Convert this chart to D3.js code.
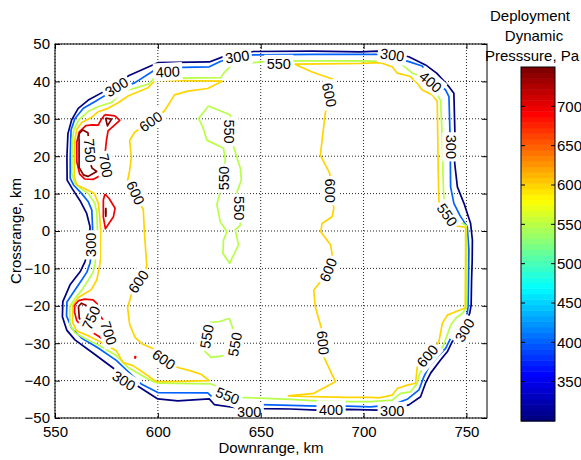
<!DOCTYPE html>
<html>
<head>
<meta charset="utf-8">
<script src="https://cdn.jsdelivr.net/npm/d3@7"></script>
<style>
  body { margin: 0; background: #fff; }
  text { font-family: "Liberation Sans", Arial, sans-serif; }
</style>
</head>
<body>
<svg id="chart" width="581" height="460"></svg>
<script>
// contour levels and tick values
const levels = [300, 400, 550, 600, 700, 750];
const xTicks = [550, 600, 650, 700, 750];
const yTicks = [-50, -40, -30, -20, -10, 0, 10, 20, 30, 40, 50];
const colorTicks = [350, 400, 450, 500, 550, 600, 650, 700];
const colorTitle = ['Deployment', 'Dynamic', 'Presssure, Pa'];

// contour lines, [downrange km, crossrange km]
const c300 = [
  [[573.5,37.2],[586.0,41.6],[600,45.0],[625,45.2],[632.2,46.7],[640,47.4],[646.5,48.0],[675,48.1],[698.5,47.9],[706.6,48.1],[714,47.5],[722.0,46.6],[730.1,44.4],[735.5,42.2],[741.5,38.6],[743.9,36.8],[744.4,26.1],[744.3,18.1],[745.6,11.8],[748.8,7.4],[752.0,2.1],[752.9,-2.4],[752.8,-8],[752.5,-13.1],[752.3,-19.8],[751.6,-22.0],[747.5,-26.5],[743.1,-29.6],[740.7,-32.3],[737.4,-34.5],[732.6,-38.0],[730.1,-40.7],[727.7,-44.3],[722.0,-46.5],[714,-47.6],[707.4,-47.9],[692.0,-47.7],[677.4,-47.9],[664.5,-47.6],[651.6,-47.5],[637.1,-47.2],[627.4,-46.4],[625,-44.9],[609.7,-45.4],[600,-44.9],[591.1,-41.8],[584,-39.2],[578.4,-36.7],[568.6,-32.7],[559.7,-29.1],[555.7,-26.5],[553.6,-22.9],[553.8,-18.9],[557.3,-14.4],[562.2,-10.9],[564.6,-8.2],[566.5,-4],[567.0,-0.6],[567.0,1.2],[565.4,4.7],[562.5,7.8],[558.5,11.2],[555.9,13.6],[555.8,19.9],[556.3,26.1],[558.1,29.7],[561.3,32.8],[566.2,35.0],[573.5,37.2]]
];
const c400 = [
  [[557.4,19.9],[557.8,27.0],[559.7,30.1],[563.8,32.8],[569.5,34.6],[576,36.8],[582,38.2],[588.7,39.6],[600,43.6],[625,43.9],[630.6,45.4],[640,46.8],[646.5,47.1],[675,47.2],[698.5,47.2],[706.3,47.2],[714,46.6],[722.0,45.3],[728.5,44.1],[733.5,40.6],[739.9,37.7],[741.5,35.9],[742.0,26.1],[742.2,18],[742.3,11.8],[743.9,7.4],[747.2,3.8],[750.4,1.1],[751.2,-5.1],[751.0,-13.1],[750.8,-20.2],[750.4,-22.0],[746,-25.5],[742.3,-28.7],[739.9,-31.4],[736.6,-33.2],[731.7,-36.3],[729.3,-39.0],[726.9,-42.5],[721.2,-45.0],[714,-46.5],[703.4,-47.0],[692,-46.8],[677.4,-46.8],[664.5,-46.6],[650,-46.4],[637.1,-46.1],[627.4,-44.9],[624.2,-43.3],[600,-43.2],[591.9,-40.9],[585,-37.3],[579.8,-34.6],[571.0,-31.3],[562.9,-28.6],[558.1,-26],[555.6,-22.7],[555.8,-19],[559.7,-15.8],[563,-13.1],[565.5,-11],[567.0,-8.6],[568.3,-4],[568.3,0.3],[567.9,5.6],[566.2,7.8],[563,10],[559,12.3],[557.4,14.1],[557.4,19.9]]
];
const c550 = [
  [[558.2,15.4],[558.4,24.3],[559.2,27.2],[561.6,29.8],[566.2,32.0],[571.1,33.3],[577.6,34.4],[582.5,37.3],[589,38.2],[595.5,39.3],[598.4,41.0],[600,40.8],[630.6,41.0],[632,42.2],[636,44.5],[649.8,45.2],[667.6,45.5],[698.5,45.5],[714.7,45.3],[718.8,44.4],[723.7,42.2],[726.1,41.7],[735.8,36.4],[737.4,35.0],[738.3,24.3],[738.6,15],[739.0,9.2],[741,4.5],[748.0,2.1],[749.9,1.5],[750.2,-5],[750.1,-13],[750.0,-20.5],[748,-22.0],[745,-23.2],[742.5,-25],[740.5,-28],[738.5,-31],[733.5,-34.3],[728.5,-36.8],[727,-38.5],[726.1,-40.7],[722.8,-43.0],[718,-43.4],[713.9,-45.2],[703.4,-45.6],[692,-45.6],[677.4,-45.4],[664.4,-45.0],[640.3,-44.5],[634,-43.3],[629.8,-41.8],[625.8,-40.9],[600,-40.7],[595.2,-39.6],[585.5,-36.5],[579.8,-33.3],[571.5,-30.6],[565,-28.9],[559.7,-27.2],[557.2,-25],[557.2,-20.2],[560,-17.8],[563,-15.8],[566.2,-13.1],[568.5,-11],[569.5,-8.6],[570.6,0.3],[570.3,5],[569.3,7.4],[566.2,10],[563,11.2],[559.7,12.7],[558.2,15.4]],
  [[624.6,33.4],[635.2,31.0],[636.0,28.0],[636.5,24.5],[636.8,22.5],[640.1,16.8],[640.6,13.6],[638.5,10.5],[639.6,6.1],[640.1,1.6],[637.6,0.3],[639.2,-3.7],[634.9,-8.6],[631.6,-6.0],[631.9,-2.4],[633.6,-0.2],[630.3,2.5],[628.7,7.0],[630.5,11],[631.8,14.5],[632.8,19.0],[631.9,22.1],[623.8,24.3],[622,27.5],[619.8,30.1],[624.6,33.4]],
  [[625,-24.5],[630,-24.2],[634.7,-23.4],[636.3,-25.8],[636.8,-30],[635,-33.2],[631.5,-33.4],[625.8,-33.8],[622.6,-32.0],[623.3,-28],[625,-24.5]]
];
const c600 = [
  [[631.5,40.1],[624.2,38.1],[614.5,37.4],[608.1,36.4],[603.2,32.1],[596,29.2],[588.7,26.4],[586.3,24.2],[587.1,19.7],[586.3,16.2],[585.2,13.2],[589,9],[592.9,5.8],[593.4,0.3],[593.8,-3],[594.6,-9.3],[592.7,-12.9],[587.5,-16.3],[585.3,-20.5],[586.3,-25],[589,-28.5],[592.7,-30.3],[598.4,-31.6],[603.5,-33.8],[609.7,-36.5],[616,-37.4],[621.0,-38.3],[625,-40.0],[612,-40.2],[600,-40.3],[598.4,-40.0],[595.2,-38.7],[587.9,-36.0],[583.1,-35.2],[579.8,-32.0],[572.6,-29.8],[566.1,-28.0],[560.5,-26.7],[558.6,-24.5],[558.6,-20.0],[561.3,-17.8],[565,-16.5],[567.5,-15.8],[570.3,-13.1],[571.9,-8.6],[572.2,0.3],[571.8,3.5],[571.1,7.4],[569.1,10.0],[564.6,11.3],[560.6,12.3],[559.4,14.5],[559.4,20],[559.6,24.2],[560.6,27.2],[563,29],[567.8,30.4],[571.0,31.9],[575.8,32.8],[580.7,34.3],[585.5,36.1],[595.2,38.3],[598.4,40.1],[600,40.3],[631.5,40.1]],
  [[666.5,44.6],[675,42.5],[685.5,40.5],[683.4,36.4],[681.5,31.9],[680.6,27.9],[679.0,20.3],[683.5,15.5],[684.6,11],[685.5,6.0],[684.7,3.8],[679.8,2.0],[679.2,-0.2],[683.9,-3.7],[684.7,-6.0],[683.5,-10.5],[675.8,-15.8],[676.5,-20.2],[679.5,-26],[680.6,-33.6],[686.3,-40.3],[675.8,-43.4],[663.5,-44.1],[675,-44.3],[692.0,-44.5],[703.4,-44.5],[707.4,-44.6],[713.9,-43.9],[716.4,-42.1],[721.2,-41.2],[725.3,-40.7],[726.1,-36.3],[731,-33.5],[736.6,-29.6],[738.3,-24.7],[740.7,-22.5],[745.6,-21.4],[749.4,-20.6],[749.5,-13],[749.6,-5],[749.6,1.0],[745.6,1.3],[738,3.0],[736.6,8.3],[736.3,16],[736.1,24.3],[735.8,34.6],[733.4,36.4],[728.5,37.7],[726.1,39.5],[722.8,41.3],[716.4,42.2],[713.9,43.9],[708.2,45.0],[698.5,44.8],[680,44.7],[666.5,44.6]]
];
const c700 = [
  [[574.2,31.1],[579.1,30.8],[581.5,29.6],[575.8,26.8],[575.0,24.2],[574.4,21],[574.6,17.5],[572.5,15],[568.5,13.8],[564.5,13.9],[562,15.2],[560.6,18.5],[560.6,23.8],[561.8,26.5],[565,28.2],[568,28.4],[571.0,28.3],[572.6,29.9],[574.2,31.1]],
  [[574.3,9.9],[576.3,8.7],[579.2,6.1],[578.4,3.8],[574.5,0.6],[573.5,3.8],[573.5,8.3],[574.3,9.9]],
  [[559.6,-19.8],[561.5,-18.6],[564.5,-18.2],[568.5,-18.4],[570.5,-19.5],[572.6,-23.2],[575,-25],[576,-27.5],[575.6,-29.2],[573.5,-29.0],[570.8,-28.0],[567.5,-26.9],[563.5,-25.7],[560.6,-24],[559.5,-21.7],[559.6,-19.8]],
  [[588.7,-33.5],[589.3,-33.7],[588.9,-34.0],[588.7,-33.5]]
];
const c750 = [
  [[561.7,26],[561.7,17],[563.8,15],[566,14.6],[570.3,15.9],[568,16.8],[566.8,19],[566.6,23],[566,26.3],[563.5,27.0],[561.7,26]],
  [[574.6,30.2],[577.5,29.9],[575.5,28.1],[574.6,30.2]],
  [[574.7,6.2],[574.8,5.0],[574.7,3.9],[574.6,5.0],[574.7,6.2]],
  [[561.4,-20.2],[562.8,-19.3],[565.2,-19.9],[567.8,-21.8],[569.5,-24.8],[567.5,-25.9],[564.6,-25.1],[561.8,-23.3],[561.4,-20.2]]
];

// inline labels: [level, x km, y km, angle deg]
const contourLabels = [
  [300,579.9,38.5,-32],[300,638.6,46.6,-8],[300,713.9,47.1,8],[300,742.6,22.5,90],
  [300,749.1,-26.5,-60],[300,713.9,-48.1,0],[300,644.4,-48.2,0],[300,583.5,-40.0,33],[300,567.5,-3.7,-90],
  [400,604.8,42.6,-3],[400,732.6,39.9,40],[400,684.2,-47.7,0],
  [550,658.8,44.7,0],[550,740.7,4.3,55],[550,633.9,-44.0,22],[550,634.9,26.6,90],
  [550,631.9,14.1,-90],[550,639.6,6.1,90],[550,623.7,-28.2,-80],[550,637.4,-30.3,-80],
  [600,596.5,29.3,-35],[600,589.2,10.2,65],[600,590.5,-13.5,-55],[600,602.9,-34.3,35],
  [600,683.4,36.4,78],[600,683.6,10.8,90],[600,682.8,-10.4,-68],[600,680.3,-29.9,85],[600,731,-33.4,-50],
  [700,574.6,17.5,78],[700,576.1,-27.3,72],
  [750,567.0,21.5,85],[750,567.5,-23.2,-65]
];

const contourSets = [[300, c300], [400, c400], [550, c550], [600, c600], [700, c700], [750, c750]];

const width = 581, height = 460;
const plot = { left: 55, right: 487, top: 44, bottom: 418 };
const bar = { left: 521, right: 555, top: 67, bottom: 421 };
const cmin = 300, cmax = 750, nColors = 64;

function jet(t) {
  const c = (v) => Math.max(0, Math.min(1, v));
  const r = c(Math.min(4 * t - 1.5, -4 * t + 4.5));
  const g = c(Math.min(4 * t - 0.5, -4 * t + 3.5));
  const b = c(Math.min(4 * t + 0.5, -4 * t + 2.5));
  return d3.rgb(r * 255, g * 255, b * 255).formatHex();
}
// colour of a value, like a 64-entry colormap over [cmin, cmax]
function levelColor(v) {
  let i = Math.floor((v - cmin) / (cmax - cmin) * nColors);
  i = Math.max(0, Math.min(nColors - 1, i));
  return jet(i / (nColors - 1));
}

const svg = d3.select('#chart');
svg.append('rect').attr('width', width).attr('height', height).attr('fill', '#fff');

const x = d3.scaleLinear().domain([550, 760]).range([plot.left, plot.right]);
const y = d3.scaleLinear().domain([-50, 50]).range([plot.bottom, plot.top]);

svg.append('clipPath').attr('id', 'plot-clip')
  .append('rect')
  .attr('x', plot.left).attr('y', plot.top)
  .attr('width', plot.right - plot.left).attr('height', plot.bottom - plot.top);

// grid
const grid = svg.append('g').attr('class', 'grid')
  .attr('stroke', '#222').attr('stroke-width', 1).attr('stroke-dasharray', '1,2');
grid.selectAll('line.gx').data(xTicks).join('line')
  .attr('x1', d => x(d)).attr('x2', d => x(d))
  .attr('y1', plot.top).attr('y2', plot.bottom);
grid.selectAll('line.gy').data(yTicks).join('line')
  .attr('x1', plot.left).attr('x2', plot.right)
  .attr('y1', d => y(d)).attr('y2', d => y(d));

// contour lines
const line = d3.line().x(d => x(d[0])).y(d => y(d[1]));
const lines = svg.append('g').attr('clip-path', 'url(#plot-clip)')
  .attr('fill', 'none').attr('stroke-width', 1.7).attr('stroke-linejoin', 'round');
contourSets.forEach(([level, paths]) => {
  lines.append('g').attr('stroke', levelColor(level))
    .selectAll('path').data(paths).join('path')
    .attr('d', line);
});

// inline labels with white background
const labelG = svg.append('g');
contourLabels.forEach(([level, lx, ly, angle]) => {
  const g = labelG.append('g')
    .attr('transform', `translate(${x(lx)},${y(ly)}) rotate(${angle})`);
  const rect = g.append('rect').attr('fill', '#fff');
  const t = g.append('text')
    .attr('text-anchor', 'middle')
    .attr('dy', '0.36em')
    .attr('font-size', 14.5)
    .attr('fill', '#000')
    .text(level);
  const w = t.node().getComputedTextLength();
  rect.attr('x', -w / 2 - 2.5).attr('y', -9).attr('width', w + 5).attr('height', 18);
});

// axes, ticks pointing inside
const fontSize = 15;
svg.append('g')
  .attr('transform', `translate(0,${plot.bottom})`)
  .call(d3.axisBottom(x).tickValues(xTicks).tickSize(-5).tickPadding(8));
svg.append('g')
  .attr('transform', `translate(${plot.left},0)`)
  .call(d3.axisLeft(y).tickValues(yTicks).tickSize(-5).tickPadding(5));
svg.append('g')
  .attr('transform', `translate(0,${plot.top})`)
  .call(d3.axisTop(x).tickValues(xTicks).tickSize(-5).tickFormat(''));
svg.append('g')
  .attr('transform', `translate(${plot.right},0)`)
  .call(d3.axisRight(y).tickValues(yTicks).tickSize(-5).tickFormat(''));
svg.selectAll('.domain').remove();
svg.selectAll('.tick text')
  .attr('font-size', fontSize)
  .attr('font-family', '"Liberation Sans", Arial, sans-serif')
  .attr('fill', '#000');

svg.append('rect')
  .attr('x', plot.left).attr('y', plot.top)
  .attr('width', plot.right - plot.left).attr('height', plot.bottom - plot.top)
  .attr('fill', 'none').attr('stroke', '#000').attr('stroke-width', 1);

svg.append('text')
  .attr('x', (plot.left + plot.right) / 2).attr('y', 453)
  .attr('text-anchor', 'middle').attr('font-size', fontSize)
  .text('Downrange, km');
svg.append('text')
  .attr('transform', `translate(21,${(plot.top + plot.bottom) / 2}) rotate(-90)`)
  .attr('text-anchor', 'middle').attr('font-size', fontSize)
  .text('Crossrange, km');

// colorbar
const cy = d3.scaleLinear().domain([cmin, cmax]).range([bar.bottom, bar.top]);
const step = (cmax - cmin) / nColors;
svg.append('g').selectAll('rect')
  .data(d3.range(nColors))
  .join('rect')
  .attr('x', bar.left)
  .attr('width', bar.right - bar.left)
  .attr('y', i => cy(cmin + (i + 1) * step))
  .attr('height', i => cy(cmin + i * step) - cy(cmin + (i + 1) * step) + 0.5)
  .attr('fill', i => jet(i / (nColors - 1)));

const cbTicks = svg.append('g').attr('stroke', '#000').attr('stroke-width', 1);
cbTicks.selectAll('line.l').data(colorTicks).join('line')
  .attr('x1', bar.left).attr('x2', bar.left + 4)
  .attr('y1', d => cy(d)).attr('y2', d => cy(d));
cbTicks.selectAll('line.r').data(colorTicks).join('line')
  .attr('class', 'r')
  .attr('x1', bar.right - 4).attr('x2', bar.right)
  .attr('y1', d => cy(d)).attr('y2', d => cy(d));
svg.append('g').selectAll('text')
  .data(colorTicks).join('text')
  .attr('x', bar.right + 2).attr('y', d => cy(d))
  .attr('dy', '0.36em').attr('font-size', fontSize)
  .text(d => d);
svg.append('rect')
  .attr('x', bar.left).attr('y', bar.top)
  .attr('width', bar.right - bar.left).attr('height', bar.bottom - bar.top)
  .attr('fill', 'none').attr('stroke', '#000').attr('stroke-width', 1);

// colorbar title, three centred lines; the last one is kept inside the window
const titleX = [530, 534, 532];
svg.append('g').selectAll('text')
  .data(colorTitle).join('text')
  .attr('x', (d, i) => titleX[i]).attr('y', (d, i) => 21 + i * 20)
  .attr('text-anchor', 'middle').attr('font-size', fontSize)
  .text(d => d);
</script>
</body>
</html>
